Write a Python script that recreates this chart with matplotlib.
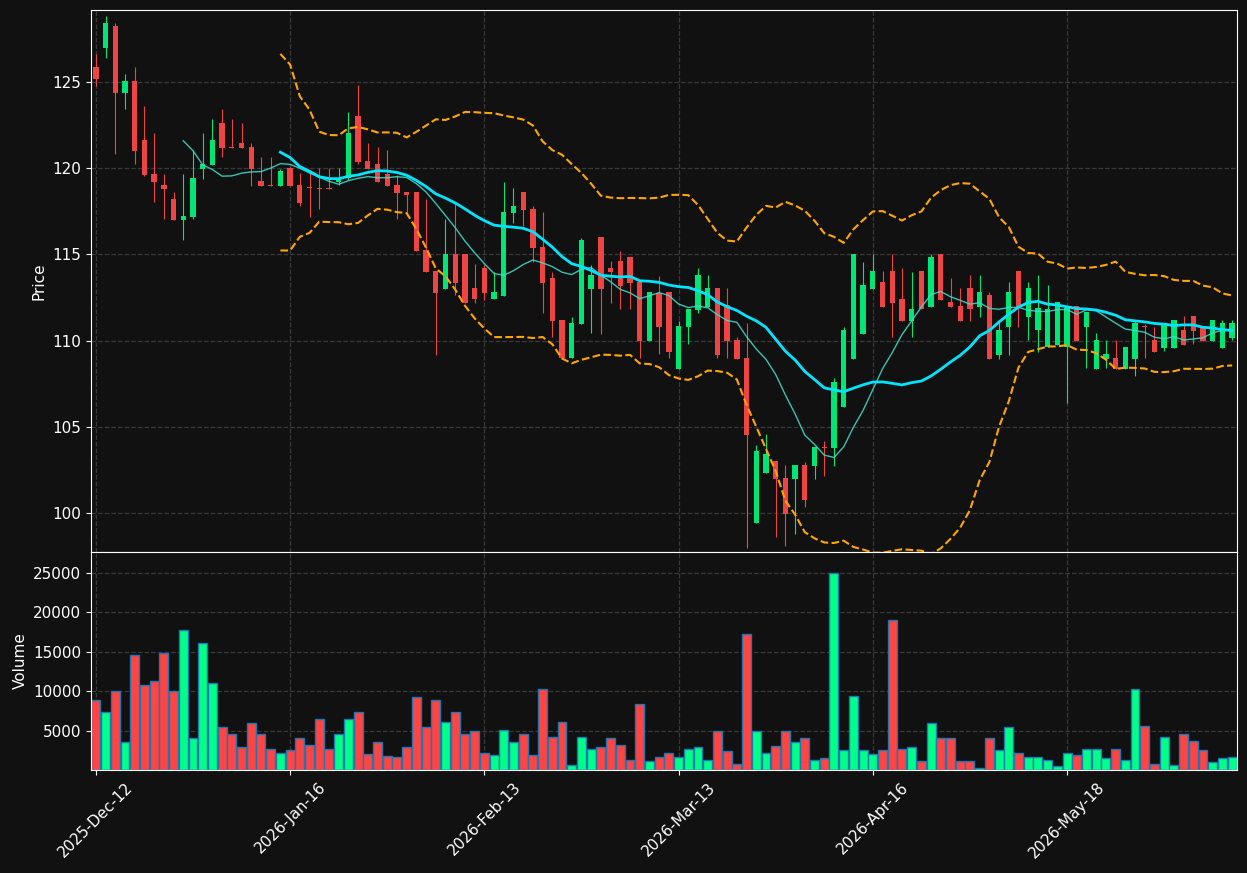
import numpy as np
import pandas as pd
import matplotlib
matplotlib.use("Agg")
import matplotlib.pyplot as plt

# OHLC, one entry per trading session
opens = [125.84, 126.96, 128.21, 124.35, 125.03, 121.61, 119.64, 119.01, 118.20, 116.98,
         117.17, 119.95, 120.16, 122.60, 121.23, 121.44, 121.21, 119.24, 119.03, 118.97,
         120.01, 119.01, 118.85, 118.82, 118.83, 119.20, 119.39, 123.00, 120.40, 120.22,
         119.64, 119.00, 118.60, 118.60, 115.24, 114.03, 113.00, 115.01, 115.01, 113.02,
         114.18, 112.39, 112.60, 117.41, 118.59, 117.60, 115.40, 113.61, 111.20, 108.97,
         110.96, 112.99, 115.98, 114.19, 114.61, 114.82, 113.38, 110.00, 112.74, 112.80,
         108.38, 110.81, 111.78, 111.97, 113.03, 112.07, 110.04, 109.02, 99.46, 102.36,
         103.03, 102.03, 102.00, 102.80, 102.74, 103.85, 103.80, 106.18, 108.96, 110.41,
         113.01, 113.38, 114.03, 112.39, 111.16, 114.03, 111.97, 115.02, 112.24, 112.01,
         113.03, 111.97, 112.65, 109.19, 110.81, 114.03, 111.39, 110.62, 109.65, 109.75,
         109.65, 112.00, 110.81, 108.38, 108.94, 108.97, 108.36, 108.94, 110.85, 110.04,
         109.59, 109.59, 110.61, 111.43, 110.83, 110.00, 109.59, 110.17]
highs = [126.57, 128.79, 128.37, 125.41, 125.82, 123.60, 122.00, 119.62, 118.58, 119.62,
         121.03, 122.00, 122.81, 123.39, 122.83, 122.58, 121.42, 120.61, 120.63, 119.93,
         120.05, 119.68, 119.87, 119.97, 119.97, 119.97, 123.24, 124.80, 121.42, 121.19,
         121.03, 119.58, 118.60, 118.60, 118.18, 114.03, 117.02, 117.98, 115.01, 114.41,
         114.37, 113.99, 119.20, 118.82, 118.59, 117.80, 117.43, 113.99, 111.20, 111.39,
         115.96, 114.38, 115.98, 114.61, 115.21, 114.82, 113.38, 112.80, 113.76, 112.80,
         111.16, 111.81, 114.19, 113.80, 113.03, 113.03, 110.19, 111.00, 103.96, 104.60,
         103.03, 102.80, 102.80, 102.99, 103.82, 104.21, 107.82, 110.81, 115.02, 114.57,
         115.02, 114.03, 115.02, 114.19, 113.99, 114.03, 115.02, 115.02, 113.61, 113.03,
         113.80, 113.80, 112.80, 111.20, 113.38, 114.03, 113.38, 113.80, 113.19, 112.24,
         111.87, 112.00, 111.64, 110.42, 110.04, 110.04, 109.61, 111.19, 110.94, 110.81,
         111.00, 111.18, 111.43, 111.43, 110.83, 111.18, 111.18, 111.18]
lows = [124.74, 126.38, 120.78, 123.39, 120.20, 119.55, 118.00, 117.02, 116.98, 115.80,
        117.02, 119.37, 120.16, 120.61, 121.17, 121.17, 118.97, 118.97, 118.97, 118.97,
        118.95, 117.79, 117.17, 117.60, 118.75, 119.01, 119.30, 120.20, 119.93, 119.20,
        118.97, 117.02, 117.21, 115.20, 113.99, 109.15, 113.00, 112.64, 112.19, 112.19,
        112.35, 112.39, 112.60, 116.79, 116.62, 114.57, 111.58, 110.19, 108.97, 108.97,
        110.96, 110.42, 110.38, 112.20, 111.81, 111.81, 108.97, 110.00, 109.21, 108.97,
        108.38, 109.79, 111.58, 111.97, 108.98, 108.98, 108.94, 97.98, 99.46, 102.36,
        98.61, 98.11, 98.79, 100.39, 102.01, 102.18, 102.74, 106.18, 108.96, 110.41,
        113.01, 111.97, 110.19, 111.16, 110.19, 111.82, 111.97, 112.36, 111.97, 111.16,
        111.16, 111.39, 108.96, 108.96, 109.19, 110.81, 110.04, 109.36, 109.65, 109.75,
        106.41, 110.00, 108.40, 108.38, 108.40, 108.36, 108.36, 107.97, 108.97, 109.36,
        109.40, 109.59, 109.75, 109.80, 110.00, 110.00, 109.59, 110.04]
closes = [125.16, 128.37, 124.35, 125.03, 120.99, 119.61, 119.20, 118.78, 116.98, 117.21,
          119.41, 120.22, 121.61, 121.17, 121.17, 121.17, 119.95, 118.97, 118.97, 119.82,
          118.97, 117.98, 118.83, 118.80, 118.80, 119.43, 122.00, 120.36, 119.93, 119.20,
          118.97, 118.56, 118.41, 115.20, 113.99, 112.77, 115.01, 113.35, 112.19, 112.38,
          112.73, 112.80, 117.43, 117.80, 117.58, 115.38, 113.36, 111.16, 108.97, 111.00,
          115.83, 113.80, 112.99, 114.00, 113.18, 113.36, 110.00, 112.80, 110.81, 109.36,
          110.85, 111.81, 113.80, 113.03, 109.17, 110.00, 108.94, 104.54, 103.61, 103.44,
          102.01, 99.96, 102.80, 100.77, 103.82, 103.80, 107.59, 110.62, 115.02, 113.22,
          114.03, 111.97, 112.20, 111.16, 111.82, 111.82, 114.83, 112.36, 111.97, 111.16,
          111.80, 112.80, 108.96, 110.62, 112.80, 111.97, 113.03, 111.88, 111.82, 112.24,
          111.87, 110.00, 111.64, 110.02, 109.23, 108.36, 109.61, 111.04, 110.80, 109.36,
          111.00, 111.18, 109.75, 110.58, 110.00, 111.18, 111.02, 111.02]
volumes = [8800, 7300, 10000, 3600, 14600, 10800, 11300, 14800, 10000, 17700,
           4100, 16100, 11000, 5400, 4500, 2900, 6000, 4500, 2600, 2200,
           2500, 4100, 3200, 6500, 2700, 4600, 6400, 7400, 2000, 3600,
           1800, 1600, 2900, 9300, 5500, 8900, 6100, 7400, 4500, 4900,
           2200, 1850, 5100, 3600, 4500, 1850, 10300, 4200, 6100, 600,
           4200, 2600, 2900, 4100, 3200, 1300, 8300, 1200, 1600, 2200,
           1600, 2600, 2900, 1300, 5000, 2400, 800, 17200, 5000, 2100,
           3000, 5000, 3600, 4100, 1300, 1500, 24900, 2500, 9400, 2500,
           2000, 2500, 19000, 2700, 2900, 1100, 6000, 4100, 4100, 1100,
           1200, 300, 4000, 2500, 5500, 2100, 1600, 1600, 1300, 450,
           2200, 1850, 2600, 2600, 1500, 2700, 1300, 10300, 5600, 800,
           4200, 600, 4600, 3700, 2500, 1000, 1500, 1600]

tick_positions = [0, 20, 40, 60, 80, 100]
tick_labels = ['2025-Dec-12', '2026-Jan-16', '2026-Feb-13', '2026-Mar-13', '2026-Apr-16', '2026-May-18']

BG = '#111111'
UP, DOWN = '#00e676', '#ef4444'
VOL_UP, VOL_DOWN = '#00ff88', '#ff4444'

df = pd.DataFrame({'open': opens, 'high': highs, 'low': lows, 'close': closes, 'volume': volumes})
x = np.arange(len(df))
ma10 = df['close'].rolling(10).mean()
ma20 = df['close'].rolling(20).mean()
std20 = df['close'].rolling(20).std()
bb_up = ma20 + 2 * std20
bb_lo = ma20 - 2 * std20

fig = plt.figure(figsize=(12.47, 8.73), dpi=100, facecolor=BG)
ax = fig.add_axes([91 / 1247, 321 / 873, 1146 / 1247, 542 / 873])
axv = fig.add_axes([91 / 1247, 103 / 873, 1146 / 1247, 218 / 873], sharex=ax)

up = df['close'] >= df['open']
colors = np.where(up, UP, DOWN)
vcolors = np.where(up, VOL_UP, VOL_DOWN)

ax.vlines(x, df['low'], df['high'], colors=colors, linewidth=0.8, zorder=2)
body_bottom = np.minimum(df['open'], df['close'])
body_height = np.maximum((df['close'] - df['open']).abs(), 0.06)
ax.bar(x, body_height, bottom=body_bottom, width=0.55, color=colors, zorder=3)

ax.plot(x, ma10, color='#40e0d0', linewidth=1.0, alpha=0.85, zorder=4)
ax.plot(x, ma20, color='#00e5ff', linewidth=2.0, zorder=4)
ax.plot(x, bb_up, color='orange', linestyle='--', linewidth=1.5, zorder=4)
ax.plot(x, bb_lo, color='orange', linestyle='--', linewidth=1.5, zorder=4)

axv.bar(x, df['volume'], width=0.92, color=vcolors, edgecolor='#1f77b4', linewidth=1.0)

for a in (ax, axv):
    a.set_facecolor(BG)
    a.grid(True, color='#444444', linestyle='--', linewidth=0.9, alpha=0.8)
    a.set_axisbelow(True)
    for s in a.spines.values():
        s.set_color('white')
    a.tick_params(colors='white', labelsize=11)

ax.set_xlim(-0.5, len(df) - 0.5)
ax.set_ylim(97.76, 129.14)
ax.set_yticks([100, 105, 110, 115, 120, 125])
ax.set_ylabel('Price', color='white', fontsize=11)
ax.tick_params(axis='x', labelbottom=False)

axv.set_ylim(0, 27600)
axv.set_yticks([5000, 10000, 15000, 20000, 25000])
axv.set_ylabel('Volume', color='white', fontsize=11)
axv.set_xticks(tick_positions)
axv.set_xticklabels(tick_labels, rotation=45, ha='center')

fig.savefig('out.png', dpi=100, facecolor=BG)
